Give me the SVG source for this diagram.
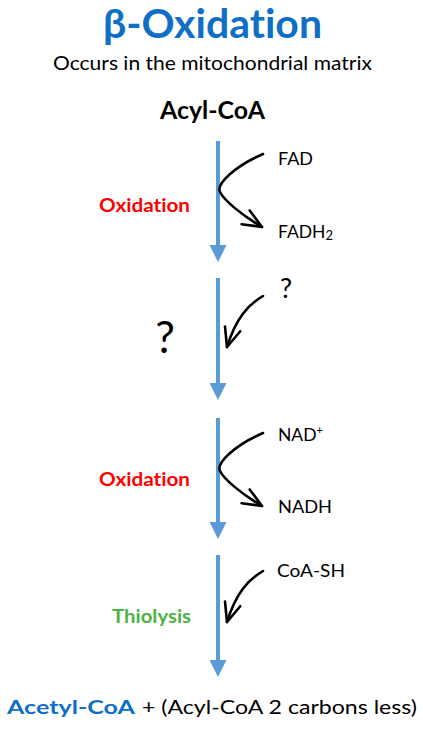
<svg xmlns="http://www.w3.org/2000/svg" width="423" height="730" viewBox="0 0 423 730">
<style>
text{font-family:Lato,"Open Sans","Liberation Sans",sans-serif;fill:#000;font-variant-ligatures:none;font-feature-settings:"liga" 0,"clig" 0}
.b{font-weight:bold}
.blue{fill:#0F6FC6}
.red{fill:#FF0000}
.green{fill:#4DB347}
.flow{stroke:#5B9BD5;stroke-width:4;fill:none}
.cur{stroke:#000;stroke-width:2.6;fill:none;stroke-linecap:round}
.lbl{font-size:17.5px}
</style>
<defs>
<marker id="bh" markerUnits="userSpaceOnUse" markerWidth="17" markerHeight="17" refX="0" refY="8.5" orient="auto" viewBox="0 0 17 17">
<path d="M0,0 L17,8.5 L0,17 Z" fill="#5B9BD5"/>
</marker>
<marker id="ch" markerUnits="userSpaceOnUse" markerWidth="26" markerHeight="26" refX="22" refY="13" orient="auto" viewBox="0 0 26 26">
<path d="M3,5 L22,13 L3,21" fill="none" stroke="#000" stroke-width="2.6" stroke-linecap="round" stroke-linejoin="round"/>
</marker>
</defs>
<g id="title">
<text class="b blue" x="103" y="38" font-size="40" textLength="219" lengthAdjust="spacingAndGlyphs">β-Oxidation</text>
<text x="53" y="70" font-size="20" textLength="319" lengthAdjust="spacingAndGlyphs">Occurs in the mitochondrial matrix</text>
</g>
<g id="acylcoa"><text class="b" x="160" y="119" font-size="24.5" textLength="105" lengthAdjust="spacingAndGlyphs">Acyl-CoA</text></g>
<g id="connectors">
<line class="flow" x1="218" y1="141" x2="218" y2="245" marker-end="url(#bh)"/>
<line class="flow" x1="218" y1="278" x2="218" y2="383" marker-end="url(#bh)"/>
<line class="flow" x1="218" y1="418" x2="218" y2="522" marker-end="url(#bh)"/>
<line class="flow" x1="218" y1="555" x2="218" y2="660" marker-end="url(#bh)"/>
<path class="cur" d="M263,154 C235,166 216,184 220,192 C224,200 240,214 262,227" marker-end="url(#ch)"/>
<path class="cur" d="M263,296 C248,305 236,318 227,347" marker-end="url(#ch)"/>
<path class="cur" d="M263,433 C235,445 216,463 220,471 C224,479 240,493 262,506" marker-end="url(#ch)"/>
<path class="cur" d="M263,571 C248,580 236,593 227,622" marker-end="url(#ch)"/>
</g>
<g id="step1">
<text class="b red" x="99" y="212" font-size="19.5" textLength="91" lengthAdjust="spacingAndGlyphs">Oxidation</text>
<text class="lbl" x="278" y="165" textLength="35" lengthAdjust="spacingAndGlyphs">FAD</text>
<text class="lbl" x="278" y="237.5">FADH<tspan font-size="13" dy="2">2</tspan></text>
</g>
<g id="step2">
<text x="165" y="353" font-size="44" text-anchor="middle">?</text>
<text x="286" y="297.5" font-size="27" text-anchor="middle">?</text>
</g>
<g id="step3">
<text class="b red" x="99" y="486" font-size="19.5" textLength="91" lengthAdjust="spacingAndGlyphs">Oxidation</text>
<text class="lbl" x="278" y="441">NAD<tspan font-size="11" dy="-7">+</tspan></text>
<text class="lbl" x="278" y="513" textLength="54" lengthAdjust="spacingAndGlyphs">NADH</text>
</g>
<g id="step4">
<text class="b green" x="112" y="623" font-size="19.5" textLength="79" lengthAdjust="spacingAndGlyphs">Thiolysis</text>
<text class="lbl" x="277" y="577" textLength="68" lengthAdjust="spacingAndGlyphs">CoA-SH</text>
</g>
<g id="products">
<text class="b blue" x="7" y="714" font-size="19.5" textLength="128" lengthAdjust="spacingAndGlyphs">Acetyl-CoA</text>
<text x="142" y="714" font-size="19.5" textLength="275" lengthAdjust="spacingAndGlyphs">+ (Acyl-CoA 2 carbons less)</text>
</g>
</svg>
